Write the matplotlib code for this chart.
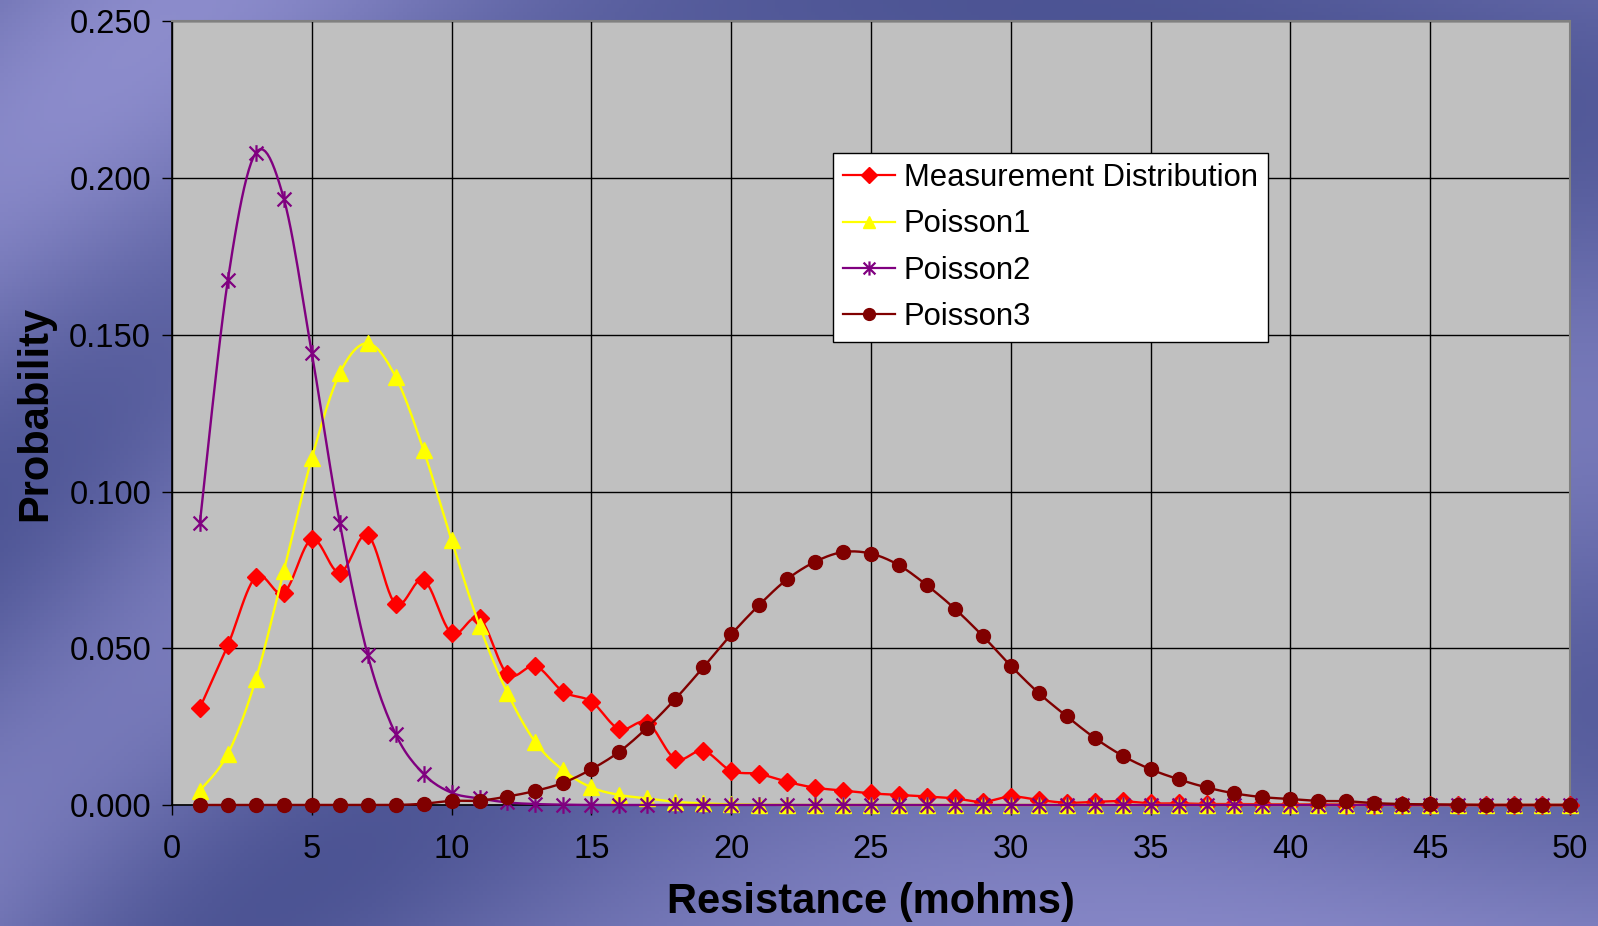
import numpy as np
import matplotlib
matplotlib.use('Agg')
import matplotlib.pyplot as plt
from matplotlib.path import Path

plt.rcParams['font.family'] = ['Liberation Sans', 'DejaVu Sans']

# resistance values (mohms)
resistance = list(range(1, 51))

measured = [0.0310, 0.0510, 0.0728, 0.0677, 0.0848, 0.0741, 0.0861, 0.0641, 0.0718, 0.0548,
            0.0596, 0.0417, 0.0443, 0.0361, 0.0330, 0.0242, 0.0263, 0.0147, 0.0173, 0.0109,
            0.0099, 0.0074, 0.0055, 0.0046, 0.0037, 0.0032, 0.0027, 0.0021, 0.0010, 0.0027,
            0.0016, 0.0007, 0.0010, 0.0012, 0.0005, 0.0005, 0.0003, 0.0003, 0.0002, 0.0002,
            0.0002, 0.0001, 0.0001, 0.0, 0.0, 0.0, 0.0, 0.0, 0.0, 0.0]

poisson1 = [0.0046, 0.0163, 0.0401, 0.0747, 0.1106, 0.1377, 0.1473, 0.1366, 0.1132, 0.0845,
            0.0572, 0.0357, 0.0200, 0.0110, 0.0056, 0.0032, 0.0021, 0.0010, 0.0005, 0.0002,
            0.0001, 0.0, 0.0, 0.0, 0.0, 0.0, 0.0, 0.0, 0.0, 0.0,
            0.0, 0.0, 0.0, 0.0, 0.0, 0.0, 0.0, 0.0, 0.0, 0.0,
            0.0, 0.0, 0.0, 0.0, 0.0, 0.0, 0.0, 0.0, 0.0, 0.0]

poisson2 = [0.0901, 0.1675, 0.2081, 0.1935, 0.1443, 0.0901, 0.0479, 0.0226, 0.0099, 0.0039,
            0.0021, 0.0008, 0.0003, 0.0001, 0.0, 0.0, 0.0, 0.0, 0.0, 0.0,
            0.0, 0.0, 0.0, 0.0, 0.0, 0.0, 0.0, 0.0, 0.0, 0.0,
            0.0, 0.0, 0.0, 0.0, 0.0, 0.0, 0.0, 0.0, 0.0, 0.0,
            0.0, 0.0, 0.0, 0.0, 0.0, 0.0, 0.0, 0.0, 0.0, 0.0]

poisson3 = [0.0, 0.0, 0.0, 0.0, 0.0, 0.0, 0.0, 0.0, 0.0004, 0.0013,
            0.0014, 0.0027, 0.0045, 0.0071, 0.0114, 0.0170, 0.0247, 0.0338, 0.0439, 0.0544,
            0.0638, 0.0720, 0.0776, 0.0807, 0.0802, 0.0765, 0.0701, 0.0626, 0.0539, 0.0444,
            0.0357, 0.0283, 0.0214, 0.0157, 0.0114, 0.0082, 0.0056, 0.0037, 0.0025, 0.0019,
            0.0013, 0.0012, 0.0006, 0.0003, 0.0002, 0.0001, 0.0, 0.0, 0.0, 0.0]

series_names = ['Measurement Distribution', 'Poisson1', 'Poisson2', 'Poisson3']


def smooth(x, y, n=12):
    """Excel-like smoothed line: Bezier segments through the points (Catmull-Rom)."""
    x = np.asarray(x, float)
    y = np.asarray(y, float)
    px = np.concatenate([[x[0]], x, [x[-1]]])
    py = np.concatenate([[y[0]], y, [y[-1]]])
    xs, ys = [], []
    t = np.linspace(0, 1, n, endpoint=False)
    for i in range(len(x) - 1):
        p0 = np.array([x[i], y[i]])
        p3 = np.array([x[i + 1], y[i + 1]])
        p1 = p0 + (np.array([px[i + 2], py[i + 2]]) - np.array([px[i], py[i]])) / 6
        p2 = p3 - (np.array([px[i + 3], py[i + 3]]) - np.array([px[i + 1], py[i + 1]])) / 6
        b = ((1 - t) ** 3)[:, None] * p0 + (3 * (1 - t) ** 2 * t)[:, None] * p1 \
            + (3 * (1 - t) * t ** 2)[:, None] * p2 + (t ** 3)[:, None] * p3
        xs.extend(b[:, 0])
        ys.extend(b[:, 1])
    xs.append(x[-1])
    ys.append(y[-1])
    return np.array(xs), np.array(ys)


# Excel style asterisk: X with a vertical bar
star = Path([(-1, -1), (1, 1), (-1, 1), (1, -1), (0, -1.2), (0, 1.2)],
            [Path.MOVETO, Path.LINETO, Path.MOVETO, Path.LINETO, Path.MOVETO, Path.LINETO])

fig = plt.figure(figsize=(15.98, 9.26), dpi=100)

# textured blue/purple backdrop
bg = fig.add_axes([0, 0, 1, 1])
gx, gy = np.meshgrid(np.linspace(0, 1, 400), np.linspace(0, 1, 240))
wave = 0.5 + 0.5 * np.sin(9 * (gx * 0.6 + gy) + 2 * np.sin(4 * gx))
wave2 = 0.5 + 0.5 * np.sin(5 * (gx - 0.8 * gy) + 1.3)
dark = np.array([0.30, 0.33, 0.58])
light = np.array([0.55, 0.55, 0.80])
mix = 0.65 * wave + 0.35 * wave2
img = dark[None, None, :] * (1 - mix[..., None]) + light[None, None, :] * mix[..., None]
bg.imshow(img, aspect='auto', extent=[0, 1, 0, 1], origin='upper')
bg.axis('off')

ax = fig.add_axes([0.1076, 0.1307, 0.8749, 0.8461])
ax.set_facecolor('#c0c0c0')

styles = [
    dict(color='#ff0000', marker='D', ms=9.5),
    dict(color='#ffff00', marker='^', ms=11),
    dict(color='#800080', marker=star, ms=12, mew=1.6),
    dict(color='#800000', marker='o', ms=10),
]

for i, (vals, name, st) in enumerate(zip([measured, poisson1, poisson2, poisson3], series_names, styles)):
    sx, sy = smooth(resistance, vals)
    ax.plot(sx, sy, color=st['color'], lw=1.7, zorder=3 + i, clip_on=False)
    ax.plot(resistance, vals, linestyle='none', marker=st['marker'], ms=st['ms'],
            color=st['color'], mfc=st['color'], mec=st['color'], mew=st.get('mew', 1),
            zorder=3 + i, clip_on=False)

# legend handles
handles = []
for name, st in zip(series_names, styles):
    h, = ax.plot([], [], color=st['color'], lw=1.6, marker=st['marker'],
                 ms=st['ms'] * 0.85, mfc=st['color'], mec=st['color'], mew=st.get('mew', 1))
    handles.append(h)
leg = ax.legend(handles, series_names, loc='upper left', bbox_to_anchor=(0.473, 0.832),
                fontsize=22.3, frameon=True, fancybox=False, framealpha=1,
                edgecolor='black', handlelength=1.65, handletextpad=0.3,
                labelspacing=0.52, borderpad=0.33, borderaxespad=0)
leg.get_frame().set_linewidth(1.0)
leg.set_zorder(20)

ax.set_xlim(0, 50)
ax.set_ylim(0, 0.25)
ax.set_xticks(np.arange(0, 51, 5))
ax.set_yticks(np.arange(0, 0.2501, 0.05))
ax.set_yticklabels([f'{v:.3f}' for v in np.arange(0, 0.2501, 0.05)])
ax.grid(True, color='black', lw=1.0, zorder=1)
ax.set_axisbelow(True)
ax.tick_params(axis='both', labelsize=23.5, direction='out', length=7, width=1,
               colors='black')
ax.tick_params(axis='x', pad=14)
ax.tick_params(axis='y', pad=8)
for s in ['top', 'right']:
    ax.spines[s].set_color('#808080')
    ax.spines[s].set_linewidth(1.5)
for s in ['left', 'bottom']:
    ax.spines[s].set_color('black')
    ax.spines[s].set_linewidth(1.2)

ax.set_xlabel('Resistance (mohms)', fontsize=30, fontweight='bold', labelpad=12)
ax.set_ylabel('Probability', fontsize=30, fontweight='bold', labelpad=10)

fig.savefig('out.png', dpi=100)
